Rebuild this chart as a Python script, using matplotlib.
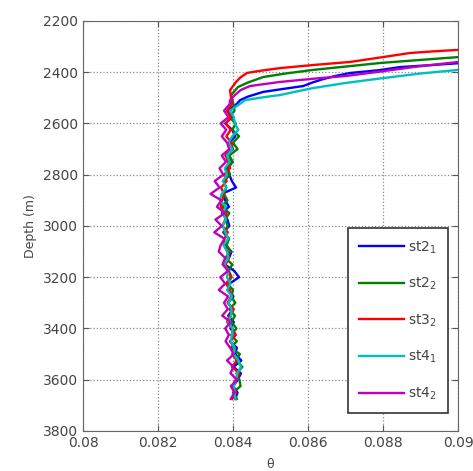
import matplotlib
matplotlib.use("Agg")
import matplotlib.pyplot as plt

# Upper (thermocline) part of each profile: depth (m) and theta
st21_top_depth = [2365, 2372, 2380, 2392, 2403, 2415, 2427, 2440, 2454, 2466, 2477, 2495, 2509]
st21_top_theta = [0.09, 0.08930, 0.08845, 0.08790, 0.08712, 0.08672, 0.08640, 0.08612, 0.08587, 0.08530, 0.08480, 0.08440, 0.08419]
st22_top_depth = [2341, 2352, 2364, 2378, 2391, 2405, 2419, 2440, 2458, 2489]
st22_top_theta = [0.09, 0.08900, 0.08792, 0.08700, 0.08613, 0.08540, 0.08480, 0.08440, 0.08413, 0.08395]
st32_top_depth = [2313, 2318, 2325, 2343, 2360, 2372, 2384, 2395, 2403, 2420, 2438, 2470]
st32_top_theta = [0.09, 0.08940, 0.08872, 0.08790, 0.08712, 0.08613, 0.08525, 0.08470, 0.08437, 0.08420, 0.08408, 0.08392]
st41_top_depth = [2391, 2405, 2423, 2442, 2462, 2475, 2489, 2500, 2509]
st41_top_theta = [0.09, 0.08900, 0.08800, 0.08700, 0.08613, 0.08570, 0.08525, 0.08470, 0.08432]
st42_top_depth = [2360, 2370, 2380, 2398, 2415, 2423, 2438, 2454, 2470, 2489, 2510]
st42_top_theta = [0.09, 0.08940, 0.08880, 0.08790, 0.08699, 0.08632, 0.08525, 0.08445, 0.08420, 0.08405, 0.08392]

# Deep part, common depth grid (m)
deep_depth = [2525, 2550, 2575, 2600, 2625, 2650, 2675, 2700, 2725, 2750,
              2775, 2800, 2825, 2850, 2875, 2900, 2925, 2950, 2975, 3000,
              3025, 3050, 3075, 3100, 3125, 3150, 3175, 3200, 3225, 3250,
              3275, 3300, 3325, 3350, 3375, 3400, 3425, 3450, 3475, 3500,
              3525, 3550, 3575, 3600, 3625, 3650, 3675]

st21_deep = [0.08409, 0.08386, 0.08398, 0.08379, 0.08398, 0.08406, 0.08390, 0.08400, 0.08380, 0.08399,
             0.08380, 0.08390, 0.08397, 0.08408, 0.08370, 0.08379, 0.08389, 0.08370, 0.08385, 0.08390,
             0.08374, 0.08389, 0.08379, 0.08396, 0.08389, 0.08378, 0.08403, 0.08416, 0.08391, 0.08386,
             0.08401, 0.08386, 0.08400, 0.08387, 0.08402, 0.08393, 0.08407, 0.08392, 0.08410, 0.08406,
             0.08422, 0.08401, 0.08421, 0.08413, 0.08400, 0.08412, 0.08406]
st22_deep = [0.08401, 0.08404, 0.08390, 0.08407, 0.08398, 0.08416, 0.08400, 0.08412, 0.08390, 0.08399,
             0.08386, 0.08392, 0.08375, 0.08382, 0.08376, 0.08385, 0.08371, 0.08390, 0.08379, 0.08386,
             0.08376, 0.08389, 0.08383, 0.08394, 0.08379, 0.08398, 0.08389, 0.08396, 0.08385, 0.08400,
             0.08395, 0.08406, 0.08390, 0.08405, 0.08396, 0.08409, 0.08395, 0.08410, 0.08394, 0.08418,
             0.08408, 0.08425, 0.08409, 0.08417, 0.08420, 0.08400, 0.08410]
st32_deep = [0.08397, 0.08384, 0.08394, 0.08381, 0.08394, 0.08382, 0.08396, 0.08398, 0.08380, 0.08387,
             0.08392, 0.08376, 0.08383, 0.08368, 0.08376, 0.08371, 0.08367, 0.08382, 0.08379, 0.08372,
             0.08386, 0.08377, 0.08375, 0.08386, 0.08389, 0.08380, 0.08387, 0.08394, 0.08381, 0.08392,
             0.08395, 0.08386, 0.08402, 0.08391, 0.08384, 0.08397, 0.08407, 0.08392, 0.08404, 0.08398,
             0.08410, 0.08397, 0.08417, 0.08407, 0.08400, 0.08408, 0.08398]
st41_deep = [0.08417, 0.08392, 0.08402, 0.08405, 0.08414, 0.08398, 0.08388, 0.08398, 0.08384, 0.08391,
             0.08378, 0.08384, 0.08373, 0.08382, 0.08370, 0.08365, 0.08381, 0.08372, 0.08381, 0.08372,
             0.08380, 0.08387, 0.08375, 0.08384, 0.08387, 0.08376, 0.08387, 0.08384, 0.08393, 0.08384,
             0.08397, 0.08388, 0.08396, 0.08395, 0.08386, 0.08399, 0.08397, 0.08394, 0.08404, 0.08402,
             0.08414, 0.08421, 0.08411, 0.08409, 0.08402, 0.08404, 0.08406]
st42_deep = [0.08391, 0.08376, 0.08388, 0.08367, 0.08382, 0.08370, 0.08384, 0.08390, 0.08370, 0.08381,
             0.08364, 0.08374, 0.08351, 0.08364, 0.08340, 0.08369, 0.08357, 0.08378, 0.08353, 0.08370,
             0.08350, 0.08377, 0.08367, 0.08362, 0.08379, 0.08372, 0.08387, 0.08366, 0.08379, 0.08362,
             0.08387, 0.08376, 0.08386, 0.08371, 0.08394, 0.08379, 0.08389, 0.08380, 0.08392, 0.08402,
             0.08384, 0.08401, 0.08393, 0.08411, 0.08394, 0.08404, 0.08394]

labels = ["st2$_1$", "st2$_2$", "st3$_2$", "st4$_1$", "st4$_2$"]
colors = ["#0000ff", "#008000", "#ff0000", "#00bfbf", "#bf00bf"]

profiles = [
    (st21_top_depth + deep_depth, st21_top_theta + st21_deep),
    (st22_top_depth + deep_depth, st22_top_theta + st22_deep),
    (st32_top_depth + deep_depth, st32_top_theta + st32_deep),
    (st41_top_depth + deep_depth, st41_top_theta + st41_deep),
    (st42_top_depth + deep_depth, st42_top_theta + st42_deep),
]

fig = plt.figure(figsize=(4.73, 4.71), dpi=100)
ax = fig.add_axes([0.1755, 0.085, 0.793, 0.8705])

for (depth, theta), lab, col in zip(profiles, labels, colors):
    ax.plot(theta, depth, color=col, linewidth=1.7, label=lab)

ax.set_xlim(0.08, 0.09)
ax.set_ylim(3800, 2200)
ax.set_xticks([0.08, 0.082, 0.084, 0.086, 0.088, 0.09])
ax.set_xticklabels(["0.08", "0.082", "0.084", "0.086", "0.088", "0.09"])
ax.set_yticks(range(2200, 3801, 200))

ax.grid(True, linestyle=":", color="#888888", linewidth=0.9)
ax.tick_params(direction="in", top=True, right=True, labelsize=10,
               colors="#555555", labelcolor="#444444", length=4)
for sp in ax.spines.values():
    sp.set_color("#666666")

ax.set_xlabel("θ", fontsize=9, color="#444444", labelpad=6)
ax.set_ylabel("Depth (m)", fontsize=9, color="#444444", labelpad=4)

leg = ax.legend(loc="lower right", bbox_to_anchor=(0.973, 0.044), fancybox=False,
                edgecolor="#333333", framealpha=1, fontsize=10, handlelength=3.2,
                labelspacing=1.45, borderpad=0.8, handletextpad=0.3, borderaxespad=0)
leg.get_frame().set_linewidth(1.2)
for txt in leg.get_texts():
    txt.set_color("#444444")

fig.savefig("out.png", dpi=100)
